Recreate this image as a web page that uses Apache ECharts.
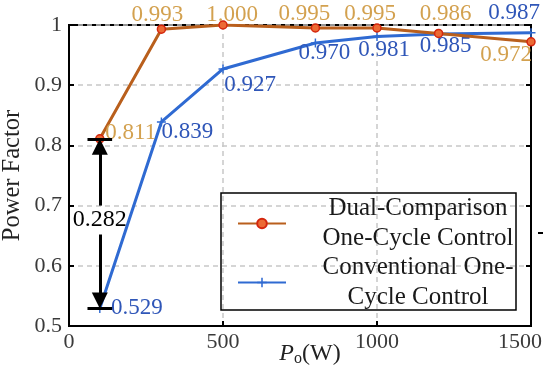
<!DOCTYPE html>
<html><head><meta charset="utf-8">
<script src="https://cdn.jsdelivr.net/npm/echarts@6/dist/echarts.min.js"></script>
<style>html,body{margin:0;padding:0;background:#fff}#c{width:550px;height:377px}</style>
</head><body><div id="c"></div>
<script>
const powerW = [100, 300, 500, 800, 1000, 1200, 1500];
const dualPF = [0.811, 0.993, 1.000, 0.995, 0.995, 0.986, 0.972];
const convPF = [0.529, 0.839, 0.927, 0.970, 0.981, 0.985, 0.987];
const dualLabels = ['0.811','0.993','1.000','0.995','0.995','0.986','0.972'];
const convLabels = ['0.529','0.839','0.927','0.970','0.981','0.985','0.987'];
const seriesNames = ['Dual-Comparison One-Cycle Control', 'Conventional One-Cycle Control'];
const legendLines = [['Dual-Comparison','One-Cycle Control'], ['Conventional One-','Cycle Control']];
const diffLabel = '0.282';

const FONT = 'Liberation Serif';
const dualOffsets = [[31,-6],[-4,-14],[9,-10],[-11,-14],[-7,-14],[7,-19],[-25,13]];
const convOffsets = [[37,-1],[26,10],[27,16],[9,10],[7,14],[7,12],[-17,-20]];

function mk(vals, labels, offs) {
  return vals.map((v, i) => ({
    value: [powerW[i], v],
    label: { offset: offs[i], formatter: labels[i] }
  }));
}

const chart = echarts.init(document.getElementById('c'), null, { renderer: 'canvas' });
const plus = 'path://M-0.8,-5L0.8,-5L0.8,-0.8L5,-0.8L5,0.8L0.8,0.8L0.8,5L-0.8,5L-0.8,0.8L-5,0.8L-5,-0.8L-0.8,-0.8Z';
const px = 0.5 / 302; // value units per pixel on y

chart.setOption({
  animation: false,
  backgroundColor: '#fff',
  grid: { left: 69, right: 19, top: 25, bottom: 51, outerBoundsMode: 'none', containLabel: false,
          show: true, borderColor: '#000', borderWidth: 2, backgroundColor: 'transparent' },
  xAxis: {
    type: 'value', min: 0, max: 1500, interval: 500,
    axisLine: { lineStyle: { color: '#000', width: 2 } },
    axisTick: { inside: true, length: 5, lineStyle: { color: '#000', width: 2 } },
    axisLabel: {
      fontFamily: FONT, fontSize: 22, color: '#3a3a3a', margin: 5,
      formatter: v => v === 1500 ? '{r|' + v + '}' : String(v),
      rich: { r: { fontFamily: FONT, fontSize: 22, color: '#3a3a3a', padding: [0, 22, 0, 0] } }
    },
    splitLine: { show: true, lineStyle: { type: [5, 4], color: '#c8c8c8', width: 1.5 } },
    name: '{p|P}{o|o}{w|(W)}', nameLocation: 'middle', nameGap: 15, nameMoveOverlap: false,
    nameTextStyle: {
      padding: [0, 0, 0, 20],
      rich: {
        p: { fontFamily: FONT, fontSize: 24, fontStyle: 'italic', color: '#222' },
        o: { fontFamily: FONT, fontSize: 16, color: '#222', padding: [10, 0, 0, 0] },
        w: { fontFamily: FONT, fontSize: 24, color: '#222' }
      }
    }
  },
  yAxis: [{
    type: 'value', min: 0.5, max: 1, interval: 0.1,
    axisLine: { show: true, lineStyle: { color: '#000', width: 2 } },
    axisTick: { show: true, inside: true, length: 5, lineStyle: { color: '#000', width: 2 } },
    axisLabel: { fontFamily: FONT, fontSize: 22, color: '#3a3a3a', margin: 7 },
    splitLine: { show: true, lineStyle: { type: [5, 4], color: '#c8c8c8', width: 1.5 } },
    name: 'Power Factor', nameLocation: 'middle', nameGap: 44, nameMoveOverlap: false,
    nameTextStyle: { fontFamily: FONT, fontSize: 24.5, color: '#222' }
  }, {
    type: 'value', min: 0.5, max: 1, interval: 0.1, position: 'right',
    axisLine: { show: true, lineStyle: { color: '#000', width: 2 } },
    axisTick: { show: true, inside: true, length: 5, lineStyle: { color: '#000', width: 2 } },
    axisLabel: { show: false }, splitLine: { show: false }
  }],
  legend: {
    left: 221, top: 193, orient: 'vertical', itemGap: 0,
    padding: [1, 0, 0, 16], itemWidth: 48, itemHeight: 12,
    backgroundColor: 'transparent', borderWidth: 0,
    data: seriesNames,
    formatter: function (name) {
      const l = legendLines[seriesNames.indexOf(name)];
      return '{a|' + l[0] + '}\n{a|' + l[1] + '}';
    },
    textStyle: {
      fontFamily: FONT, fontSize: 25, lineHeight: 29.5,
      rich: { a: { fontFamily: FONT, fontSize: 25, color: '#1a1a1a', width: 254, align: 'center', lineHeight: 29.5 } }
    }
  },
  graphic: [
    { type: 'rect', z: 3, shape: { x: 221, y: 193, width: 295, height: 117 }, style: { fill: null, stroke: '#000', lineWidth: 1.5 } },
    { type: 'rect', z: 3, shape: { x: 538, y: 232, width: 5, height: 2 }, style: { fill: '#000' } }
  ],
  series: [{
    name: seriesNames[0], type: 'line', z: 4,
    data: mk(dualPF, dualLabels, dualOffsets),
    symbol: 'circle', symbolSize: 8,
    lineStyle: { color: '#b95f1c', width: 3 },
    itemStyle: { color: '#ec6a34', borderColor: '#d4260e', borderWidth: 1.5 },
    label: { show: true, position: 'inside', fontFamily: FONT, fontSize: 23, color: '#d3a14f' },
    markLine: {
      silent: true, symbol: ['none', 'none'], animation: false,
      lineStyle: { color: '#000', width: 3, type: 'solid' }, label: { show: false },
      data: [
        [{ coord: [60, dualPF[0]] }, { coord: [140, dualPF[0]] }],
        [{ coord: [60, convPF[0]] }, { coord: [140, convPF[0]] }],
        [{ coord: [100, dualPF[0] - 8 * px], symbol: 'triangle', symbolSize: 16 }, { coord: [100, 0.70], symbol: 'none' }],
        [{ coord: [100, 0.652], symbol: 'none' }, { coord: [100, convPF[0] + 8 * px], symbol: 'triangle', symbolSize: 16 }]
      ]
    },
    markPoint: {
      silent: true, symbol: 'circle', symbolSize: 0,
      data: [{ coord: [100, 0.677], label: { show: true, position: 'inside', formatter: diffLabel, fontFamily: FONT, fontSize: 24, color: '#000' } }]
    }
  }, {
    name: seriesNames[1], type: 'line', z: 3,
    data: mk(convPF, convLabels, convOffsets),
    symbol: plus, symbolSize: 9,
    lineStyle: { color: '#2f6ad2', width: 3 },
    itemStyle: { color: '#2f6ad2' },
    label: { show: true, position: 'inside', fontFamily: FONT, fontSize: 23, color: '#2f56b8' }
  }]
});
</script></body></html>
